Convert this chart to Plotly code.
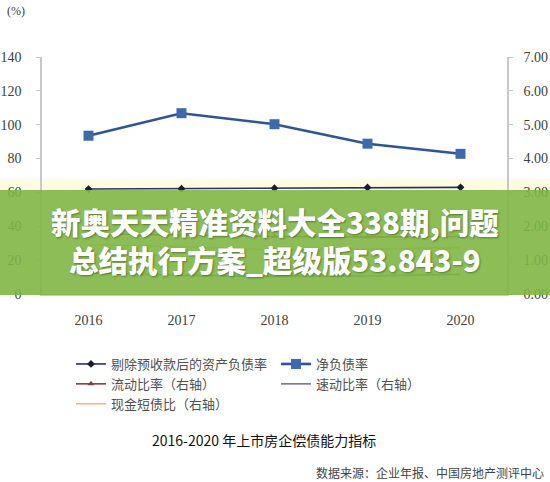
import plotly.graph_objects as go

years = ["2016", "2017", "2018", "2019", "2020"]
debt_ratio_ex_adv = [62.0, 62.2, 62.5, 62.9, 63.0]      # 剔除预收款后的资产负债率 (left)
net_debt_ratio = [93.5, 106.8, 100.3, 88.8, 82.8]        # 净负债率 (left)
current_ratio = [1.78, 1.73, 1.70, 1.68, 1.70]           # 流动比率 (right)
quick_ratio = [0.62, 0.55, 0.52, 0.53, 0.58]             # 速动比率 (right)
cash_short_debt = [1.45, 1.40, 1.30, 1.32, 1.37]         # 现金短债比 (right)

W, H = 550, 482
ML, MR, MT, MB = 42, 43, 57, 188
PW, PH = W - ML - MR, H - MT - MB


def px(x):
    return (x - ML) / PW


def py(y):
    return (H - MB - y) / PH


serif = "Liberation Serif, DejaVu Serif, serif"
cjk = "Noto Sans CJK SC, Noto Sans, sans-serif"

fig = go.Figure()
fig.add_trace(go.Scatter(
    x=years, y=debt_ratio_ex_adv, name="剔除预收款后的资产负债率",
    mode="lines+markers", line=dict(color="#2b2d6e", width=1.6),
    marker=dict(symbol="diamond", size=6, color="#1c1c3a")))
fig.add_trace(go.Scatter(
    x=years, y=net_debt_ratio, name="净负债率",
    mode="lines+markers", line=dict(color="#2f5597", width=2.6),
    marker=dict(symbol="square", size=10, color="#3d6aad")))
fig.add_trace(go.Scatter(
    x=years, y=current_ratio, name="流动比率（右轴）", yaxis="y2",
    mode="lines+markers", line=dict(color="#8c3b3b", width=1.6),
    marker=dict(symbol="triangle-up", size=6, color="#8c3b3b")))
fig.add_trace(go.Scatter(
    x=years, y=quick_ratio, name="速动比率（右轴）", yaxis="y2",
    mode="lines", line=dict(color="#7d6e9c", width=1.6)))
fig.add_trace(go.Scatter(
    x=years, y=cash_short_debt, name="现金短债比（右轴）", yaxis="y2",
    mode="lines", line=dict(color="#f2b58a", width=1.6)))

axis_common = dict(showgrid=False, zeroline=False, showline=True,
                   linecolor="#c8c8c8", linewidth=1.5, automargin=False,
                   tickfont=dict(family=serif, size=14, color="#404040"))

fig.update_layout(
    width=W, height=H,
    margin=dict(l=ML, r=MR, t=MT, b=MB, autoexpand=False),
    paper_bgcolor="white", plot_bgcolor="white",
    showlegend=True,
    xaxis=dict(type="category", range=[-0.5, 4.5], ticks="",
               ticklabelstandoff=12, **axis_common),
    yaxis=dict(range=[0, 140], dtick=20, ticks="outside", ticklen=4,
               tickcolor="#c8c8c8", ticklabelstandoff=12, **axis_common),
    yaxis2=dict(range=[0, 7], dtick=1, tickformat=".2f", overlaying="y",
                side="right", ticks="outside", ticklen=4, tickcolor="#c8c8c8",
                ticklabelstandoff=8, **axis_common),
    legend=dict(orientation="h", x=px(71), y=py(349), xanchor="left",
                yanchor="top", entrywidth=160, traceorder="normal",
                font=dict(family=cjk, size=13, color="#505050"),
                bgcolor="rgba(0,0,0,0)", tracegroupgap=0),
)

annotations = [
    dict(text="(%)", x=px(16), y=py(11), xref="paper", yref="paper",
         xanchor="center", yanchor="middle",
         showarrow=False, font=dict(family=serif, size=12, color="#404040")),
    dict(text="2016-2020 年上市房企偿债能力指标", x=px(264), y=py(440),
         xref="paper", yref="paper", showarrow=False,
         xanchor="center", yanchor="middle",
         font=dict(family=cjk, size=14, color="#111111")),
    dict(text="数据来源：企业年报、中国房地产测评中心", x=px(546), y=py(472),
         xref="paper", yref="paper", showarrow=False, xanchor="right",
         yanchor="middle",
         font=dict(family=cjk, size=12, color="#444444")),
    dict(text="新奥天天精准资料大全338期,问题<br>总结执行方案_超级版53.843-9",
         x=px(275), y=py(240), xref="paper", yref="paper", showarrow=False,
         align="center", xanchor="center", yanchor="middle",
         font=dict(family=cjk, size=29.5, color="white", weight=900,
                   shadow="1px 1px 2px rgba(0,0,0,0.35)")),
]
fig.update_layout(annotations=annotations)

fig.add_shape(type="rect", xref="paper", yref="paper",
              x0=px(0), x1=px(W), y0=py(179), y1=py(190),
              fillcolor="rgba(255,250,205,0.6)", line=dict(width=0), layer="below")
fig.add_shape(type="rect", xref="paper", yref="paper",
              x0=px(0), x1=px(W), y0=py(190), y1=py(295),
              fillcolor="rgba(128,182,68,0.9)", line=dict(width=0), layer="above")

fig.write_html("out.html", config={"displayModeBar": False},
               post_script="document.body.style.margin='0';")
